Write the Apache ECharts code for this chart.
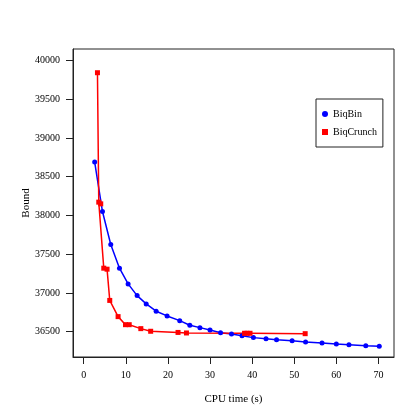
<!DOCTYPE html>
<html>
<head>
<meta charset="utf-8">
<script src="https://cdn.jsdelivr.net/npm/echarts@6/dist/echarts.min.js"></script>
<style>
  html, body { margin: 0; padding: 0; background: #fff; }
  #chart { width: 420px; height: 420px; }
</style>
</head>
<body>
<div id="chart"></div>
<script>
// values
const biqbinTime = [2.6, 4.45, 6.42, 8.49, 10.54, 12.68, 14.84, 17.2, 19.8, 22.8, 25.2, 27.6, 30.0, 32.5, 35.1, 37.6, 40.3, 43.3, 45.8, 49.5, 52.7, 56.6, 60.0, 63.0, 67.0, 70.2];
const biqbinBound = [38688, 38050, 37624, 37319, 37116, 36965, 36858, 36764, 36703, 36642, 36583, 36552, 36522, 36487, 36470, 36448, 36423, 36410, 36397, 36384, 36367, 36354, 36341, 36332, 36319, 36312];
const biqcrunchTime = [3.26, 3.57, 4.04, 4.76, 5.54, 6.18, 8.16, 9.92, 10.8, 13.56, 15.9, 22.4, 24.4, 38.2, 38.8, 39.5, 52.6];
const biqcrunchBound = [39841, 38171, 38149, 37319, 37306, 36903, 36694, 36590, 36590, 36539, 36505, 36490, 36483, 36479, 36479, 36479, 36474];
const xTicks = [0, 10, 20, 30, 40, 50, 60, 70];
const yTicks = [36500, 37000, 37500, 38000, 38500, 39000, 39500, 40000];

const font = 'Liberation Serif';

let myChart = echarts.init(document.getElementById('chart'));

let option = {
    animation: false,
    grid: {
        left: 73, top: 49, width: 321, height: 308,
        show: true, borderColor: '#222', borderWidth: 1, backgroundColor: 'transparent'
    },
    legend: {
        orient: 'vertical',
        left: 316, top: 99,
        borderColor: '#222', borderWidth: 1,
        padding: [10, 6, 10, 6],
        itemGap: 8,
        itemWidth: 6, itemHeight: 6,
        textStyle: { fontFamily: font, fontSize: 10, color: '#000' },
        data: [
            { name: 'BiqBin', icon: 'circle' },
            { name: 'BiqCrunch', icon: 'rect' }
        ]
    },
    xAxis: {
        type: 'value',
        min: -2.55, max: 73.7,
        name: 'CPU time (s)',
        nameLocation: 'middle',
        nameGap: 37,
        nameMoveOverlap: false,
        nameTextStyle: { fontFamily: font, fontSize: 11, color: '#000' },
        axisLine: { show: true, onZero: false, lineStyle: { color: '#222' } },
        axisTick: { show: true, length: 7, customValues: xTicks, lineStyle: { color: '#222' } },
        axisLabel: { customValues: xTicks, margin: 13, fontFamily: font, fontSize: 10, color: '#000',
                     formatter: v => String(v) },
        splitLine: { show: false }
    },
    yAxis: {
        type: 'value',
        min: 36173, max: 40147,
        name: 'Bound',
        nameLocation: 'middle',
        nameGap: 41,
        nameMoveOverlap: false,
        nameTextStyle: { fontFamily: font, fontSize: 11, color: '#000' },
        axisLine: { show: true, onZero: false, lineStyle: { color: '#222' } },
        axisTick: { show: true, length: 7, customValues: yTicks, lineStyle: { color: '#222' } },
        axisLabel: { customValues: yTicks, margin: 13, fontFamily: font, fontSize: 10, color: '#000',
                     formatter: v => String(v) },
        splitLine: { show: false }
    },
    series: [
        {
            name: 'BiqBin',
            type: 'line',
            data: biqbinTime.map((t, i) => [t, biqbinBound[i]]),
            symbol: 'circle',
            symbolSize: 5,
            itemStyle: { color: '#0000ff' },
            lineStyle: { color: '#0000ff', width: 1.5 }
        },
        {
            name: 'BiqCrunch',
            type: 'line',
            data: biqcrunchTime.map((t, i) => [t, biqcrunchBound[i]]),
            symbol: 'rect',
            symbolSize: 5,
            itemStyle: { color: '#ff0000' },
            lineStyle: { color: '#ff0000', width: 1.5 }
        }
    ]
};

option && myChart.setOption(option);
</script>
</body>
</html>
